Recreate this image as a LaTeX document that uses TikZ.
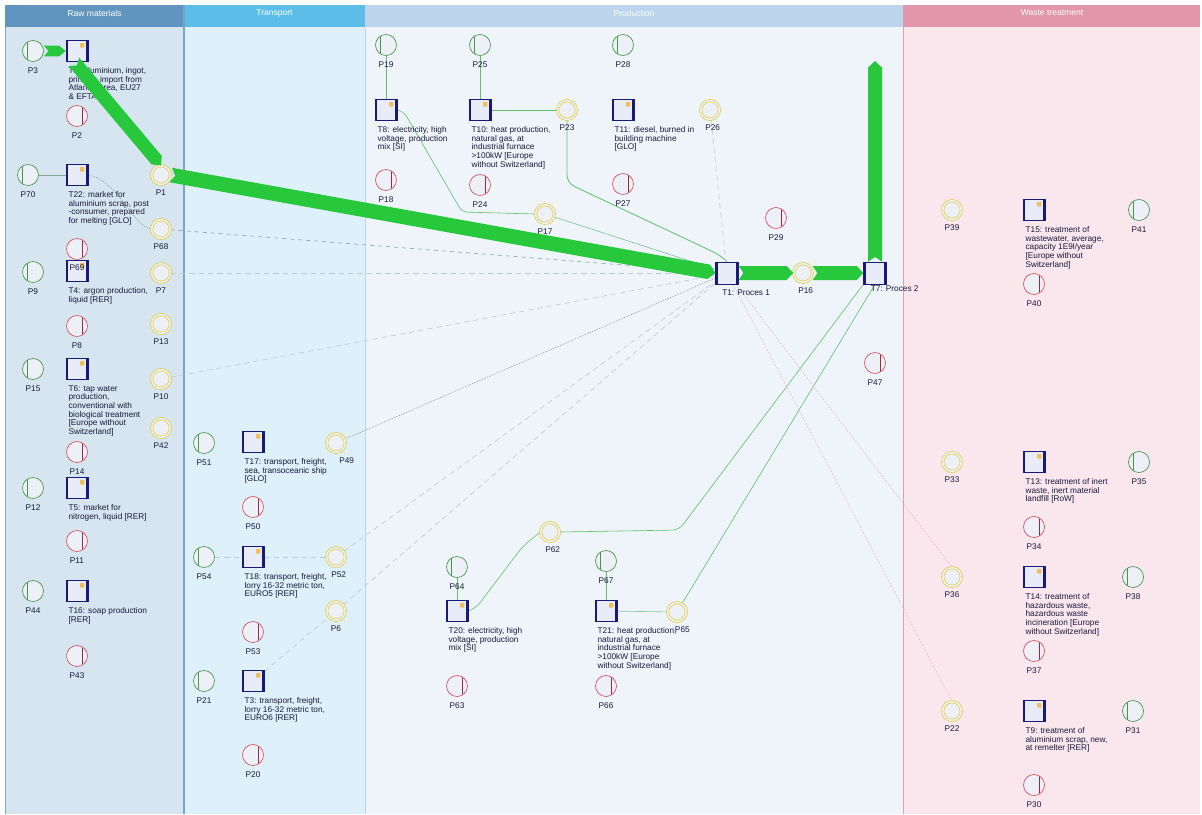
\documentclass[tikz,border=0pt]{standalone}
\usepackage{fontspec}
\setmainfont{Liberation Sans}
\usetikzlibrary{calc}
\definecolor{rawhead}{RGB}{98,148,192}
\definecolor{rawbody}{RGB}{214,229,240}
\definecolor{rawline}{RGB}{120,165,200}
\definecolor{trhead}{RGB}{92,189,232}
\definecolor{trbody}{RGB}{222,240,250}
\definecolor{prhead}{RGB}{188,213,236}
\definecolor{prbody}{RGB}{238,244,249}
\definecolor{wahead}{RGB}{225,150,170}
\definecolor{wabody}{RGB}{249,231,237}
\definecolor{waline}{RGB}{215,160,180}
\definecolor{gcirc}{RGB}{70,150,70}
\definecolor{rcirc}{RGB}{210,80,90}
\definecolor{rbar}{RGB}{160,40,60}
\definecolor{ycirc}{RGB}{225,205,60}
\definecolor{cfill}{RGB}{238,240,248}
\definecolor{navy}{RGB}{25,25,120}
\definecolor{tfill}{RGB}{232,236,248}
\definecolor{lockc}{RGB}{240,190,90}
\definecolor{labc}{RGB}{25,25,60}
\definecolor{flowc}{RGB}{40,200,60}
\definecolor{thing}{RGB}{95,192,105}
\definecolor{faintc}{RGB}{185,203,208}
\definecolor{dotc}{RGB}{130,165,150}
\definecolor{pinkc}{RGB}{225,195,200}
\pgfdeclarelayer{lanes}
\pgfdeclarelayer{edges}
\pgfsetlayers{lanes,edges,main}
\newcommand\PlG[4][0pt]{\node[gplace] (#2) at (#3,#4) {};\node[plab] (#2l) at ([xshift=#1,yshift=-4.5pt]#2.south) {#2};}
\newcommand\PlR[4][0pt]{\node[rplace] (#2) at (#3,#4) {};\node[plab] (#2l) at ([xshift=#1,yshift=-4.5pt]#2.south) {#2};}
\newcommand\PlY[4][0pt]{\node[yplace] (#2) at (#3,#4) {};\node[plab] (#2l) at ([xshift=#1,yshift=-3.8pt]#2.south) {#2};}
\newcommand\TrN[4]{%
  \node[trans] (#1) at (#2,#3) {};
  \draw[tedge] ([xshift=1pt]#1.north west) -- ([xshift=1pt]#1.south west)
               ([xshift=-1pt]#1.north east) -- ([xshift=-1pt]#1.south east);
  \fill[lockc, rounded corners=0.5pt] ([xshift=-6.2pt,yshift=-2pt]#1.north east) rectangle ([xshift=-3pt,yshift=-5.6pt]#1.north east);
  \node[tlab] (#1l) at ([xshift=2pt,yshift=-4pt]#1.south west) {#4};}
\newcommand\flowband[3]{%
  \path (#1) coordinate (bA) (#2) coordinate (bB);
  \coordinate (bH) at ($(bB)!5pt!(bA)$);
  \fill[flowc] ($(bA)!#3!90:(bB)$) -- ($(bA)!3.5pt!(bB)$) -- ($(bA)!#3!-90:(bB)$)
     -- ($(bH)!#3!-90:(bB)$) -- (bB) -- ($(bH)!#3!90:(bB)$) -- cycle;}
\begin{document}
\begin{tikzpicture}[x=0.75pt,y=-0.75pt,
  gplace/.style={circle, draw=gcirc, fill=cfill, line width=0.5pt, minimum size=15.75pt, inner sep=0pt,
    path picture={\draw[gcirc, line width=0.5pt] ([xshift=3.6pt]path picture bounding box.north west) -- ([xshift=3.6pt]path picture bounding box.south west);}},
  rplace/.style={circle, draw=rcirc, fill=cfill, line width=0.5pt, minimum size=15.75pt, inner sep=0pt,
    path picture={\draw[rbar, line width=0.7pt] ([xshift=-3.6pt]path picture bounding box.north east) -- ([xshift=-3.6pt]path picture bounding box.south east);}},
  yplace/.style={circle, draw=ycirc, double=cfill, double distance=1.2pt, line width=0.55pt, fill=cfill, minimum size=14pt, inner sep=0pt},
  trans/.style={rectangle, draw=navy, fill=tfill, line width=0.5pt, minimum width=16.5pt, minimum height=15.75pt, inner sep=0pt},
  tedge/.style={draw=navy, line width=2pt},
  tlab/.style={anchor=north west, inner sep=0pt, align=left, font=\fontsize{6.2pt}{6.5pt}\selectfont, text=labc},
  plab/.style={anchor=north, inner sep=0pt, font=\fontsize{6.2pt}{6.5pt}\selectfont, text=labc},
  lanetitle/.style={inner sep=0pt, font=\fontsize{6.4pt}{7pt}\selectfont, text=white},
  gline/.style={draw=thing, line width=0.6pt},
  gthin/.style={draw=thing, line width=0.45pt},
  fline/.style={draw=faintc, line width=0.45pt, dash pattern=on 4pt off 3pt},
  dline/.style={draw=dotc, line width=0.45pt, dash pattern=on 1pt off 1pt},
  dashl/.style={draw=dotc, line width=0.45pt, dash pattern=on 3pt off 3pt},
  pline/.style={draw=pinkc, line width=0.45pt, dash pattern=on 1.5pt off 1pt}]
\useasboundingbox (0,0) rectangle (1202,814);

% ---------- lanes ----------
\begin{pgfonlayer}{lanes}
\fill[white] (0,0) rectangle (1202,814);
\fill[rawbody] (5,5) rectangle (184,814);
\fill[trbody] (184,5) rectangle (365,814);
\fill[prbody] (365,5) rectangle (903,814);
\fill[wabody] (903,5) rectangle (1200,814);
\fill[rawhead] (5,5) rectangle (184,27);
\fill[trhead] (184,5) rectangle (365,27);
\fill[prhead] (365,5) rectangle (903,27);
\fill[wahead] (903,5) rectangle (1200,27);
\draw[rawline, line width=0.8pt] (5.5,27) -- (5.5,814) (184,5) -- (184,814);
\draw[prhead, line width=0.6pt] (365,27) -- (365,814);
\draw[waline, line width=0.8pt] (903.5,5) -- (903.5,814);
\node[lanetitle] (hraw) at (94.5,13) {Raw materials};
\node[lanetitle] (htr) at (274.5,13) {Transport};
\node[lanetitle] (hpr) at (634,13) {Production};
\node[lanetitle] (hwa) at (1052,13) {Waste treatment};
\end{pgfonlayer}

% ---------- raw materials ----------
\PlG{P3}{33}{51}
\TrN{T2}{77}{51}{T2: aluminium, ingot,\\primary, import from\\Atlantic Area, EU27\\\& EFTA}
\PlR{P2}{77}{116}
\PlY{P1}{161}{175}
\PlG{P70}{28}{175}
\TrN{T22}{77}{175}{T22: market for\\aluminium scrap, post\\-consumer, prepared\\for melting {[GLO]}}
\PlY{P68}{161}{229}
\node[rplace] (P69) at (77,249) {};
\PlG{P9}{33}{272}
\TrN{T4}{77}{271}{T4: argon production,\\liquid {[RER]}}
\node[plab] (P69l) at ([yshift=-3.5pt]P69.south) {P69};
\PlY{P7}{161}{273}
\PlR{P8}{77}{326}
\PlY{P13}{161}{324}
\PlG{P15}{33}{369}
\TrN{T6}{77}{369}{T6: tap water\\production,\\conventional with\\biological treatment\\{}{[Europe without}\\Switzerland{]}}
\PlY{P10}{161}{379}
\PlY{P42}{161}{428}
\PlR{P14}{77}{452}
\PlG{P12}{33}{488}
\TrN{T5}{77}{488}{T5: market for\\nitrogen, liquid {[RER]}}
\PlR{P11}{77}{541}
\PlG{P44}{33}{591}
\TrN{T16}{77}{591}{T16: soap production\\{}{[RER]}}
\PlR{P43}{77}{656}

% ---------- transport ----------
\PlG{P51}{204}{443}
\TrN{T17}{253}{442}{T17: transport, freight,\\sea, transoceanic ship\\{}{[GLO]}}
\PlY[8pt]{P49}{336}{443}
\PlR{P50}{253}{507}
\PlG{P54}{204}{557}
\TrN{T18}{253}{557}{T18: transport, freight,\\lorry 16-32 metric ton,\\EURO5 {[RER]}}
\PlY[2pt]{P52}{336}{557}
\PlY{P6}{336}{611}
\PlR{P53}{253}{632}
\PlG{P21}{204}{681}
\TrN{T3}{253}{681}{T3: transport, freight,\\lorry 16-32 metric ton,\\EURO6 {[RER]}}
\PlR{P20}{253}{755}

% ---------- production ----------
\PlG{P19}{386}{45}
\TrN{T8}{386}{110}{T8: electricity, high\\voltage, production\\mix {[SI]}}
\PlR{P18}{386}{180}
\PlG{P25}{480}{45}
\TrN{T10}{480}{110}{T10: heat production,\\natural gas, at\\industrial furnace\\>100kW {[Europe}\\without Switzerland{]}}
\PlY{P23}{567}{110}
\PlR{P24}{480}{185}
\PlY{P17}{545}{214}
\PlG{P28}{623}{45}
\TrN{T11}{623}{110}{T11: diesel, burned in\\building machine\\{}{[GLO]}}
\PlY[2pt]{P26}{710}{110}
\PlR{P27}{623}{184}
\PlR{P29}{776}{218}
\node[trans, minimum width=17pt, minimum height=16.5pt] (T1) at (727,273) {};
\draw[tedge] ([xshift=1pt]T1.north west) -- ([xshift=1pt]T1.south west) ([xshift=-1pt]T1.north east) -- ([xshift=-1pt]T1.south east);
\node[tlab] (T1l) at ([xshift=5pt,yshift=-4pt]T1.south west) {T1: Proces 1};
\PlY[2pt]{P16}{803}{273}
\node[trans, minimum width=17pt, minimum height=16.5pt] (T7) at (875,273) {};
\draw[tedge] ([xshift=1pt]T7.north west) -- ([xshift=1pt]T7.south west) ([xshift=-1pt]T7.north east) -- ([xshift=-1pt]T7.south east);
\node[tlab] (T7l) at ([xshift=5.5pt,yshift=-1pt]T7.south west) {T7: Proces 2};
\PlR{P47}{875}{363}
\PlY[2pt]{P62}{550}{532}
\PlG{P64}{457}{567}
\TrN{T20}{457}{611}{T20: electricity, high\\voltage, production\\mix {[SI]}}
\PlR{P63}{457}{686}
\PlG{P67}{606}{561}
\TrN{T21}{606}{611}{T21: heat production,\\natural gas, at\\industrial furnace\\>100kW {[Europe}\\without Switzerland{]}}
\PlY[4pt]{P65}{677}{612}
\PlR{P66}{606}{686}

% ---------- waste treatment ----------
\PlY{P39}{952}{210}
\TrN{T15}{1034}{210}{T15: treatment of\\wastewater, average,\\capacity 1E9l/year\\{}{[Europe without}\\Switzerland{]}}
\PlG{P41}{1139}{210}
\PlR{P40}{1034}{284}
\PlY{P33}{952}{462}
\TrN{T13}{1034}{462}{T13: treatment of inert\\waste, inert material\\landfill {[RoW]}}
\PlG{P35}{1139}{462}
\PlR{P34}{1034}{527}
\PlY{P36}{952}{577}
\TrN{T14}{1034}{577}{T14: treatment of\\hazardous waste,\\hazardous waste\\incineration {[Europe}\\without Switzerland{]}}
\PlG{P38}{1133}{577}
\PlR{P37}{1034}{651}
\PlY{P22}{952}{711}
\TrN{T9}{1034}{711}{T9: treatment of\\aluminium scrap, new,\\at remelter {[RER]}}
\PlG{P31}{1133}{711}
\PlR{P30}{1034}{785}

\coordinate (out7) at (875,61);

% ---------- thin connectors ----------
\begin{pgfonlayer}{edges}
\draw[gline] (P19) -- (T8);
\draw[gline] (P25) -- (T10);
\draw[gline] (T10) -- (P23);
\draw[gline, rounded corners=6pt] (P23.south) -- (567,183) -- (720,255) -- (T1.north);
\draw[gthin, rounded corners=4pt] (T8.east) -- (404,112) -- (462,212) -- (P17.west);
\draw[gthin, draw=thing!70!faintc] (P17) -- (T1);
\draw[fline] (P26) -- (T1);
\draw[draw=dotc, line width=0.45pt] (P70) -- (T22);
\draw[dline] (T22.east) .. controls (118,180) and (132,226) .. (P68.west);
\draw[dashl] (P68) -- (T1);
\draw[fline] (P7) -- (T1);
\draw[fline] (P10) -- (T1);
\draw[dline] (P49) -- (T1);
\draw[fline] (P52) -- (T1);
\draw[fline] (P6) -- (T1);
\draw[fline] (P54) -- (T18);
\draw[fline] (T18) -- (P52);
\draw[fline] (T3) -- (P6);
\draw[gline] (P64) -- (T20);
\draw[gthin, rounded corners=5pt] (T20.east) -- (476,608) -- (523,546) -- (P62.west);
\draw[gthin, rounded corners=5pt] (P62.east) -- (679,530) -- (T7.south west);
\draw[gthin] (P65) -- (T7.south);
\draw[gline] (P67) -- (T21);
\draw[gthin, draw=thing!50!faintc] (T21) -- (P65);
\draw[pline] (T1) -- (P22.north);
\draw[pline] (T1) -- (P36.north);
\end{pgfonlayer}

% ---------- main flow bands ----------
\flowband{P3.east}{T2.west}{4.1pt}
\flowband{$(T2.south)+(-3,0)$}{P1.north}{5pt}
\flowband{P1.east}{T1.west}{5.5pt}
\flowband{T1.east}{P16.west}{5.25pt}
\flowband{P16.east}{T7.west}{5.25pt}
\flowband{T7.north}{out7}{5.25pt}
\end{tikzpicture}
\end{document}
